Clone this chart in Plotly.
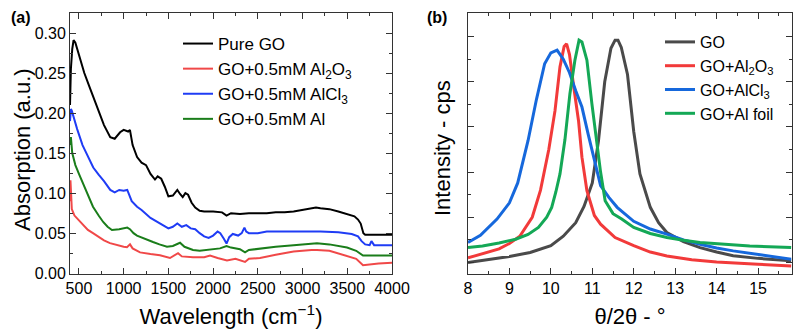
import plotly.graph_objects as go

# ---------------- Panel (a): absorption spectra ----------------
go_x = [400, 410, 425, 440, 460, 500, 560, 620, 660, 720, 780, 850, 900, 960, 1000, 1050, 1070, 1100, 1150, 1200,
        1250, 1300, 1350, 1380, 1420, 1460, 1500, 1550, 1600, 1630, 1660, 1690, 1720, 1760, 1800, 1850, 1900, 2000,
        2100, 2150, 2200, 2300, 2400, 2500, 2600, 2700, 2800, 2900, 3000, 3100, 3150, 3200, 3300, 3400, 3500, 3580,
        3620, 3650, 3680, 3700, 3800, 3900, 4000]
go_y = [0.21, 0.255, 0.28, 0.291, 0.288, 0.272, 0.25, 0.232, 0.22, 0.203, 0.185, 0.17, 0.168, 0.176, 0.179, 0.177,
        0.179, 0.16, 0.145, 0.138, 0.135, 0.124, 0.117, 0.121, 0.118, 0.108, 0.096, 0.097, 0.104, 0.099, 0.095, 0.1,
        0.098, 0.088, 0.082, 0.078, 0.077, 0.077, 0.076, 0.072, 0.075, 0.074, 0.075, 0.075, 0.075, 0.076, 0.076,
        0.077, 0.079, 0.081, 0.082, 0.081, 0.08, 0.077, 0.074, 0.071, 0.067, 0.062, 0.05, 0.048, 0.048, 0.048, 0.048]

alcl3_x = [400, 410, 420, 440, 480, 540, 600, 660, 720, 780, 850, 900, 950, 1000, 1040, 1060, 1090, 1150, 1200, 1300,
           1400, 1500, 1550, 1600, 1650, 1700, 1750, 1800, 1850, 1900, 1950, 2000, 2050, 2080, 2120, 2150, 2180, 2220,
           2280, 2320, 2350, 2370, 2400, 2500, 2600, 2800, 3000, 3200, 3400, 3550, 3620, 3660, 3700, 3750, 3770,
           3800, 3900, 4000]
alcl3_y = [0.19, 0.205, 0.203, 0.195, 0.18, 0.16, 0.145, 0.132, 0.123, 0.115, 0.104, 0.101, 0.104, 0.103, 0.104,
           0.098, 0.09, 0.083, 0.079, 0.069, 0.062, 0.056, 0.058, 0.062, 0.058, 0.06, 0.056, 0.055, 0.05, 0.046,
           0.044, 0.047, 0.052, 0.05, 0.043, 0.037, 0.045, 0.049, 0.047, 0.05, 0.057, 0.052, 0.05, 0.05, 0.052,
           0.052, 0.052, 0.052, 0.051, 0.049, 0.046, 0.04, 0.036, 0.035, 0.04, 0.035, 0.035, 0.035]

al_x = [400, 410, 425, 460, 500, 545, 600, 657, 720, 771, 820, 869, 950, 1000, 1040, 1070, 1110, 1149, 1250, 1328,
        1400, 1484, 1550, 1600, 1630, 1680, 1775, 1850, 1932, 2000, 2077, 2150, 2200, 2300, 2357, 2400, 2524, 2700,
        2900, 3100, 3161, 3300, 3497, 3600, 3676, 3750, 3850, 4000]
al_y = [0.16, 0.17, 0.15, 0.135, 0.124, 0.112, 0.096, 0.083, 0.072, 0.064, 0.058, 0.054, 0.055, 0.056, 0.057, 0.055,
        0.05, 0.047, 0.042, 0.039, 0.036, 0.033, 0.034, 0.037, 0.038, 0.033, 0.029, 0.028, 0.029, 0.03, 0.031, 0.034,
        0.032, 0.03, 0.026, 0.029, 0.031, 0.033, 0.035, 0.037, 0.0375, 0.036, 0.032, 0.028, 0.022, 0.022, 0.022,
        0.022]

al2o3_x = [400, 405, 412, 420, 450, 500, 545, 600, 657, 720, 780, 847, 950, 1000, 1037, 1071, 1100, 1183, 1300,
           1406, 1518, 1570, 1608, 1650, 1775, 1900, 1966, 2050, 2155, 2250, 2357, 2400, 2524, 2700, 2900, 3100,
           3161, 3300, 3497, 3600, 3676, 3750, 3850, 4000]
al2o3_y = [0.09, 0.116, 0.1, 0.08, 0.072, 0.066, 0.06, 0.054, 0.05, 0.045, 0.041, 0.0375, 0.034, 0.033, 0.0325,
           0.036, 0.031, 0.026, 0.024, 0.0225, 0.019, 0.022, 0.025, 0.021, 0.02, 0.02, 0.022, 0.019, 0.016, 0.018,
           0.014, 0.018, 0.019, 0.023, 0.027, 0.029, 0.029, 0.028, 0.022, 0.018, 0.01, 0.011, 0.012, 0.013]

# ---------------- Panel (b): XRD peaks ----------------
xrd_go_x = [8.0, 8.5, 9.0, 9.5, 10.0, 10.3, 10.6, 10.8, 11.0, 11.15, 11.3, 11.45, 11.55, 11.62, 11.7, 11.85, 12.0,
            12.15, 12.4, 12.6, 12.8, 13.2, 13.6, 14.0, 14.4, 15.0, 15.8]
xrd_go_y = [0, 30, 65, 110, 185, 290, 440, 620, 880, 1350, 2000, 2370, 2460, 2460, 2380, 2080, 1450, 980, 610, 440,
            331, 230, 164, 115, 75, 45, 20]

xrd_blue_x = [8.0, 8.3, 8.7, 9.0, 9.2, 9.45, 9.65, 9.85, 10.0, 10.15, 10.3, 10.45, 10.6, 10.75, 10.9, 11.0, 11.2,
              11.4, 11.6, 12.0, 12.4, 12.8, 13.2, 13.6, 14.0, 14.4, 15.0, 15.8]
xrd_blue_y = [220, 300, 480, 660, 880, 1350, 1800, 2200, 2320, 2350, 2250, 2100, 1900, 1720, 1420, 1220, 850, 720,
              610, 455, 370, 313, 250, 202, 160, 128, 85, 35]

xrd_red_x = [8.0, 8.4, 8.75, 9.0, 9.25, 9.55, 9.75, 9.95, 10.1, 10.22, 10.32, 10.38, 10.45, 10.55, 10.67, 10.75,
             10.87, 11.05, 11.2, 11.55, 12.0, 12.4, 12.8, 13.4, 14.0, 15.0, 15.8]
xrd_red_y = [50, 100, 150, 210, 290, 500, 800, 1250, 1680, 2165, 2390, 2420, 2300, 1950, 1560, 1165, 794, 520, 424,
             276, 185, 115, 72, 30, 5, -20, -40]

xrd_green_x = [8.0, 8.35, 8.75, 9.15, 9.45, 9.7, 9.9, 10.02, 10.12, 10.22, 10.34, 10.46, 10.58, 10.68, 10.75, 10.87,
               10.99, 11.11, 11.2, 11.31, 11.5, 11.71, 12.0, 12.4, 12.8, 13.2, 13.6, 14.2, 14.8, 15.8]
xrd_green_y = [165, 183, 215, 257, 310, 387, 500, 609, 780, 980, 1360, 1868, 2239, 2460, 2440, 2239, 1757, 1313,
               1000, 683, 540, 480, 387, 320, 276, 245, 220, 200, 183, 165]

W, H = 797, 333
FONT = "Liberation Sans, Arial, sans-serif"
PT, PB = 13, 274          # plot-area top / bottom in pixels
PH = PB - PT

fig = go.Figure()

left = [
    (go_x, go_y, "Pure GO", "#000000"),
    (al2o3_x, al2o3_y, "GO+0.5mM Al<sub>2</sub>O<sub>3</sub>", "#f04848"),
    (alcl3_x, alcl3_y, "GO+0.5mM AlCl<sub>3</sub>", "#1f3cf5"),
    (al_x, al_y, "GO+0.5mM Al", "#1a7d1a"),
]
for x, y, name, c in left:
    fig.add_trace(go.Scatter(x=x, y=y, name=name, mode="lines", line=dict(color=c, width=2),
                             xaxis="x", yaxis="y", legend="legend"))

right = [
    (xrd_go_x, xrd_go_y, "GO", "#4a4a4a"),
    (xrd_red_x, xrd_red_y, "GO+Al<sub>2</sub>O<sub>3</sub>", "#f23a3a"),
    (xrd_blue_x, xrd_blue_y, "GO+AlCl<sub>3</sub>", "#1668dc"),
    (xrd_green_x, xrd_green_y, "GO+Al foil", "#14a856"),
]
for x, y, name, c in right:
    fig.add_trace(go.Scatter(x=x, y=y, name=name, mode="lines", line=dict(color=c, width=3),
                             xaxis="x2", yaxis="y2", legend="legend2"))

axcommon = dict(showline=True, linecolor="#333333", linewidth=1, mirror="allticks", ticks="inside",
                tickcolor="#333333", showgrid=False, zeroline=False, automargin=False,
                tickfont=dict(family=FONT, size=16, color="#000000"))

fig.update_layout(
    width=W, height=H, autosize=False,
    margin=dict(l=0, r=0, t=PT, b=H - PB),
    paper_bgcolor="white", plot_bgcolor="white",
    font=dict(family=FONT, color="#000000"),
    xaxis=dict(domain=[70 / W, 392 / W], range=[400, 4000], dtick=500, tick0=500, ticklen=6,
               minor=dict(dtick=250, ticklen=3, ticks="inside", tickcolor="#333333"),
               title=dict(text="Wavelength (cm<sup>\u22121</sup>)", font=dict(family=FONT, size=22), standoff=12),
               anchor="y", **axcommon),
    yaxis=dict(domain=[0, 1], range=[-0.001, 0.325], dtick=0.05, tickformat=".2f", ticklen=6,
               minor=dict(dtick=0.025, ticklen=3, ticks="inside", tickcolor="#333333"),
               anchor="x", **axcommon),
    xaxis2=dict(domain=[468 / W, 792 / W], range=[8, 15.82], dtick=1, tick0=8, ticklen=6,
                minor=dict(dtick=0.5, ticklen=3, ticks="inside", tickcolor="#333333"),
                title=dict(text="\u03b8/2\u03b8 - \u00b0", font=dict(family=FONT, size=22), standoff=12),
                anchor="y2", **axcommon),
    yaxis2=dict(domain=[0, 1], range=[-128, 2761], dtick=500, tick0=0, ticklen=6, showticklabels=False,
                minor=dict(dtick=250, ticklen=3, ticks="inside", tickcolor="#333333"),
                anchor="x2", **axcommon),
    legend=dict(x=178 / W, xanchor="left", y=(PB - 26) / PH, yanchor="top",
                font=dict(family=FONT, size=17), bgcolor="rgba(0,0,0,0)", tracegroupgap=0),
    legend2=dict(x=660 / W, xanchor="left", y=(PB - 25) / PH, yanchor="top",
                 font=dict(family=FONT, size=16), bgcolor="rgba(0,0,0,0)", tracegroupgap=0),
    annotations=[
        dict(text="<b>(a)</b>", x=9 / W, y=(PB - 17) / PH, xref="paper", yref="paper", xanchor="left",
             yanchor="middle", showarrow=False, font=dict(family=FONT, size=16)),
        dict(text="<b>(b)</b>", x=425 / W, y=(PB - 17) / PH, xref="paper", yref="paper", xanchor="left",
             yanchor="middle", showarrow=False, font=dict(family=FONT, size=16)),
        dict(text="Absorption (a.u.)", textangle=-90, x=22 / W, y=(PB - 150) / PH, xref="paper",
             yref="paper", xanchor="center", yanchor="middle", showarrow=False,
             font=dict(family=FONT, size=22)),
        dict(text="Intensity - cps", textangle=-90, x=443 / W, y=(PB - 148) / PH, xref="paper",
             yref="paper", xanchor="center", yanchor="middle", showarrow=False,
             font=dict(family=FONT, size=22)),
    ],
)

fig.write_html("out.html", config={"displayModeBar": False},
               post_script="document.body.style.margin='0';document.body.style.padding='0';")
